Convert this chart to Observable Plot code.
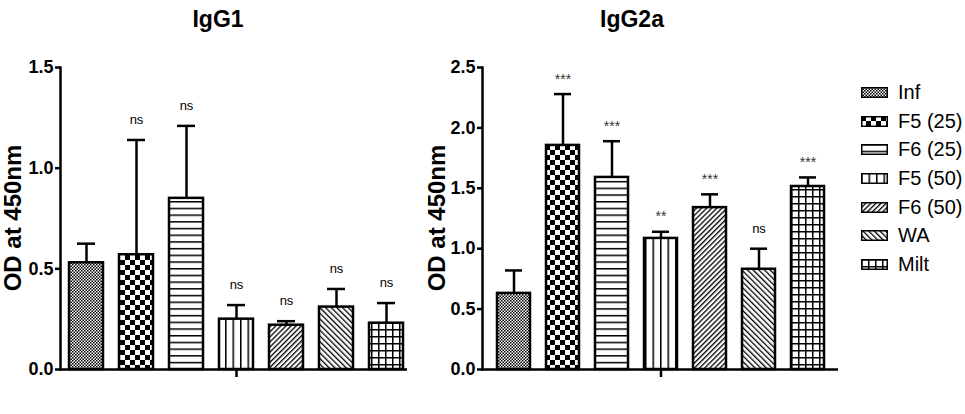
<!DOCTYPE html>
<html>
<head>
<meta charset="utf-8">
<script src="https://cdn.jsdelivr.net/npm/d3@7"></script>
<script src="https://cdn.jsdelivr.net/npm/@observablehq/plot@0.6"></script>
<style>
  body { margin: 0; background: #fff; }
  #wrap { position: relative; width: 965px; height: 414px; overflow: hidden; font-family: "Liberation Sans", Arial, sans-serif; color: #000; }
  .plot { position: absolute; top: 0; }
  .title { position: absolute; top: 6px; font-weight: bold; font-size: 23px; transform: translateX(-50%); white-space: nowrap; }
  .ylab { position: absolute; font-weight: bold; font-size: 24px; white-space: nowrap; transform: translate(-50%, -50%) rotate(-90deg); }
  #legend { position: absolute; left: 861px; top: 78px; }
  .lrow { display: flex; align-items: center; height: 28.7px; font-size: 20px; }
  .lrow svg { margin-right: 10px; }
</style>
</head>
<body>
<svg width="0" height="0" style="position:absolute">
  <defs>
    <pattern id="p0" patternUnits="userSpaceOnUse" width="3" height="3">
      <rect width="3" height="3" fill="#fff"/>
      <rect x="0" y="0" width="1.5" height="1.5" fill="#000"/>
      <rect x="1.5" y="1.5" width="1.5" height="1.5" fill="#000"/>
    </pattern>
    <pattern id="p1" patternUnits="userSpaceOnUse" width="10" height="10">
      <rect width="10" height="10" fill="#fff"/>
      <rect x="0" y="0" width="5" height="5" fill="#000"/>
      <rect x="5" y="5" width="5" height="5" fill="#000"/>
    </pattern>
    <pattern id="p2" patternUnits="userSpaceOnUse" width="10" height="6.7">
      <rect width="10" height="6.7" fill="#fff"/>
      <rect x="0" y="0" width="10" height="1.5" fill="#000"/>
    </pattern>
    <pattern id="p3" patternUnits="userSpaceOnUse" width="7.5" height="10">
      <rect width="7.5" height="10" fill="#fff"/>
      <rect x="0" y="0" width="1.5" height="10" fill="#000"/>
    </pattern>
    <pattern id="p4" patternUnits="userSpaceOnUse" width="3.6" height="10" patternTransform="rotate(45)">
      <rect width="3.6" height="10" fill="#fff"/>
      <rect x="0" y="0" width="1.3" height="10" fill="#000"/>
    </pattern>
    <pattern id="p5" patternUnits="userSpaceOnUse" width="4" height="10" patternTransform="rotate(-45)">
      <rect width="4" height="10" fill="#fff"/>
      <rect x="0" y="0" width="1.3" height="10" fill="#000"/>
    </pattern>
    <pattern id="p6" patternUnits="userSpaceOnUse" width="7" height="7">
      <rect width="7" height="7" fill="#fff"/>
      <rect x="0" y="0" width="1.5" height="7" fill="#000"/>
      <rect x="0" y="0" width="7" height="1.5" fill="#000"/>
    </pattern>
  </defs>
</svg>
<div id="wrap">
  <div class="title" style="left:218px">IgG1</div>
  <div class="title" style="left:632px">IgG2a</div>
  <div class="ylab" style="left:13px; top:218px">OD at 450nm</div>
  <div class="ylab" style="left:437px; top:218px">OD at 450nm</div>
  <div id="left" class="plot" style="left:0px"></div>
  <div id="right" class="plot" style="left:420px"></div>
  <div id="legend"></div>
</div>
<script>
const categories = ["Inf", "F5 (25)", "F6 (25)", "F5 (50)", "F6 (50)", "WA", "Milt"];
const patternUrls = ["url(#p0)", "url(#p1)", "url(#p2)", "url(#p3)", "url(#p4)", "url(#p5)", "url(#p6)"];

const igg1Mean = [0.53, 0.57, 0.85, 0.25, 0.22, 0.31, 0.23];
const igg1Err  = [0.625, 1.14, 1.21, 0.32, 0.24, 0.40, 0.33];
const igg1Sig  = ["", "ns", "ns", "ns", "ns", "ns", "ns"];
const igg1Ticks = [0, 0.5, 1.0, 1.5];

const igg2aMean = [0.63, 1.855, 1.59, 1.085, 1.34, 0.83, 1.515];
const igg2aErr  = [0.82, 2.28, 1.89, 1.14, 1.45, 1.00, 1.59];
const igg2aSig  = ["", "***", "***", "**", "***", "ns", "***"];
const igg2aTicks = [0, 0.5, 1.0, 1.5, 2.0, 2.5];

function rows(mean, err, sig) {
  return categories.map((c, i) => ({cat: c, mean: mean[i], err: err[i], sig: sig[i]}));
}

function chart(data, ticks, opts) {
  const sw = 2.5;
  return Plot.plot({
    width: opts.width, height: 414,
    marginLeft: opts.ml, marginRight: opts.mr, marginTop: 67, marginBottom: 45,
    style: {fontFamily: "'Liberation Sans', Arial, sans-serif", fontSize: "18px", background: "transparent", overflow: "visible"},
    x: {domain: categories, paddingInner: 0.32, paddingOuter: opts.po, axis: null},
    y: {domain: [0, ticks[ticks.length - 1]], axis: null},
    color: {domain: categories, range: patternUrls},
    marks: [
      Plot.axisY({ticks: ticks, tickFormat: d3.format(".1f"), tickSize: 5, tickPadding: 2, strokeWidth: sw, fontWeight: "bold", fontSize: 18, label: null}),
      Plot.axisX({ticks: ["F5 (50)"], tickFormat: () => "", tickSize: 8, strokeWidth: sw, label: null}),
      Plot.frame({anchor: "left", strokeWidth: sw}),
      Plot.ruleX(data, {x: "cat", y1: "mean", y2: "err", strokeWidth: sw}),
      Plot.tickY(data, {x: "cat", y: "err", insetLeft: 8, insetRight: 8, strokeWidth: sw}),
      Plot.barY(data, {x: "cat", y: "mean", fill: "cat", stroke: "black", strokeWidth: sw}),
      Plot.ruleY([0], {strokeWidth: sw, insetRight: opts.ir}),
      Plot.text(data.filter(d => d.sig === "ns"), {x: "cat", y: "err", text: "sig", dy: -20, fontSize: 13, fill: "#000"}),
      Plot.text(data.filter(d => d.sig.startsWith("*")), {x: "cat", y: "err", text: "sig", dy: -15, fontSize: 14, fill: "#333"})
    ]
  });
}

document.getElementById("left").append(chart(rows(igg1Mean, igg1Err, igg1Sig), igg1Ticks, {width: 420, ml: 60, mr: 8, po: 0.157, ir: 5}));
document.getElementById("right").append(chart(rows(igg2aMean, igg2aErr, igg2aSig), igg2aTicks, {width: 430, ml: 62, mr: 10, po: 0.25, ir: 2}));

const legend = document.getElementById("legend");
categories.forEach((c, i) => {
  const row = document.createElement("div");
  row.className = "lrow";
  row.innerHTML = `<svg width="27" height="11"><rect x="0.75" y="0.75" width="25.5" height="9.5" fill="${patternUrls[i]}" stroke="#000" stroke-width="1.5"/></svg><span>${c}</span>`;
  legend.append(row);
});
</script>
</body>
</html>
